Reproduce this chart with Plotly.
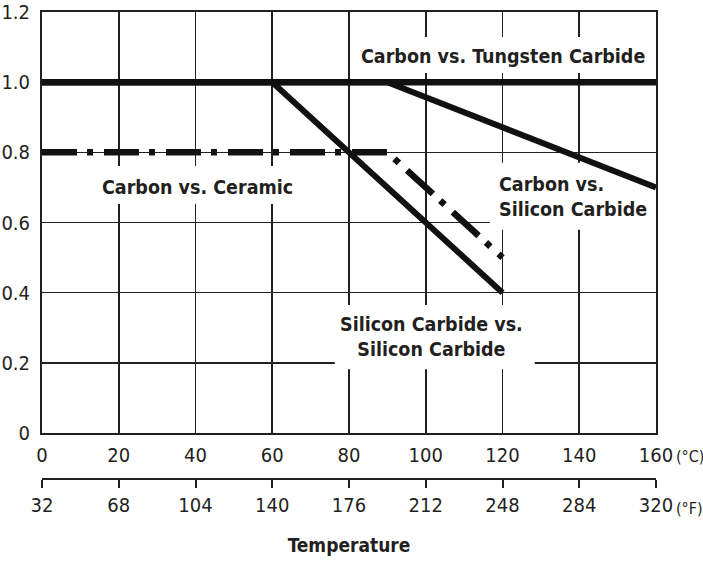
import plotly.graph_objects as go

# ---- data ----
tungsten_x = [0, 160]
tungsten_y = [1.0, 1.0]
carbon_sic_x = [0, 90, 160]
carbon_sic_y = [1.0, 1.0, 0.70]
sic_sic_x = [0, 60, 120]
sic_sic_y = [1.0, 1.0, 0.40]
ceramic_x = [0, 90, 120]
ceramic_y = [0.8, 0.8, 0.5]

c_ticks = [0, 20, 40, 60, 80, 100, 120, 140, 160]
f_ticks = [32, 68, 104, 140, 176, 212, 248, 284, 320]
y_ticks = [0, 0.2, 0.4, 0.6, 0.8, 1.0, 1.2]
y_ticktext = ["0", "0.2", "0.4", "0.6", "0.8", "1.0", "1.2"]

FONT = "DejaVu Sans Condensed, Liberation Sans Narrow, sans-serif"
INK = "#231f20"

fig = go.Figure()
fig.add_trace(go.Scatter(x=tungsten_x, y=tungsten_y, mode="lines",
                         line=dict(color="#111", width=6.5), hoverinfo="skip"))
fig.add_trace(go.Scatter(x=carbon_sic_x, y=carbon_sic_y, mode="lines",
                         line=dict(color="#111", width=6), hoverinfo="skip"))
fig.add_trace(go.Scatter(x=sic_sic_x, y=sic_sic_y, mode="lines",
                         line=dict(color="#111", width=6), hoverinfo="skip"))
fig.add_trace(go.Scatter(x=ceramic_x, y=ceramic_y, mode="lines",
                         line=dict(color="#111", width=6.5, dash="35px,10px,6px,11px"),
                         hoverinfo="skip"))

# white boxes behind labels (between gridlines and traces)
boxes = [
    (82.3, 157.9, 1.026, 1.129),
    (11.7, 67.2, 0.653, 0.761),
    (116.7, 160, 0.579, 0.770),
    (76.3, 128.4, 0.182, 0.365),
]
for x0, x1, y0, y1 in boxes:
    fig.add_shape(type="rect", x0=x0, x1=x1, y0=y0, y1=y1, xref="x", yref="y",
                  fillcolor="white", line=dict(width=0), layer="between")

lab_font = dict(family=FONT, size=19.5, color=INK)
fig.add_annotation(x=120, y=1.072, text="<b>Carbon vs. Tungsten Carbide</b>",
                   showarrow=False, font=lab_font)
fig.add_annotation(x=40.6, y=0.701, text="<b>Carbon vs. Ceramic</b>",
                   showarrow=False, font=lab_font)
fig.add_annotation(x=118.5, y=0.673, text="<b>Carbon vs.<br>Silicon Carbide</b>",
                   showarrow=False, font=lab_font, xanchor="left", align="left")
fig.add_annotation(x=101.6, y=0.274, text="<b>Silicon Carbide vs.<br>Silicon Carbide</b>",
                   showarrow=False, font=lab_font, align="center")

tick_font = dict(family=FONT, size=20, color=INK)
unit_font = dict(family=FONT, size=16, color=INK)

H = 562
L, R = 42, 656
plot_top, plot_bot, f_line = 12, 433, 479
paper_h = f_line - plot_top
unit_x = (674 - L) / (R - L)

fig.add_annotation(xref="paper", yref="paper", x=unit_x, xanchor="left",
                   y=(f_line - 456) / paper_h, yanchor="middle",
                   text="(°C)", showarrow=False, font=unit_font)
fig.add_annotation(xref="paper", yref="paper", x=unit_x, xanchor="left",
                   y=(f_line - 508) / paper_h, yanchor="middle",
                   text="(°F)", showarrow=False, font=unit_font)

fig.update_layout(
    width=703, height=H,
    margin=dict(l=L, r=703 - R, t=plot_top, b=H - f_line, pad=0, autoexpand=False),
    paper_bgcolor="white", plot_bgcolor="white",
    showlegend=False,
    font=dict(family=FONT, color=INK),
    xaxis=dict(range=[0, 160], tickvals=c_ticks, ticktext=[str(v) for v in c_ticks],
               showgrid=True, gridcolor=INK, gridwidth=1.6,
               showline=True, linecolor=INK, linewidth=2, mirror=True,
               ticks="", tickfont=tick_font, ticklabelstandoff=3,
               zeroline=False, anchor="y", automargin=False),
    yaxis=dict(range=[0, 1.2], tickvals=y_ticks, ticktext=y_ticktext,
               domain=[(f_line - plot_bot) / paper_h, 1],
               showgrid=True, gridcolor=INK, gridwidth=1.6,
               showline=True, linecolor=INK, linewidth=2, mirror=True,
               ticks="", tickfont=tick_font, ticklabelstandoff=6, zeroline=False,
               automargin=False),
    xaxis2=dict(range=[32, 320], tickvals=f_ticks, ticktext=[str(v) for v in f_ticks],
                overlaying="x", anchor="free", position=0, side="bottom",
                showgrid=False, zeroline=False, automargin=False,
                showline=True, linecolor=INK, linewidth=2,
                ticks="outside", ticklen=8, tickwidth=2, tickcolor=INK,
                tickfont=tick_font,
                title=dict(text="<b>Temperature</b>",
                           font=dict(family=FONT, size=19, color=INK),
                           standoff=22)),
)
fig.add_trace(go.Scatter(x=[32, 320], y=[None, None], xaxis="x2", yaxis="y",
                         mode="lines", hoverinfo="skip", showlegend=False))

fig.write_html("out.html",
               config={"displayModeBar": False, "staticPlot": True},
               post_script="document.body.style.margin='0';document.body.style.padding='0';")
